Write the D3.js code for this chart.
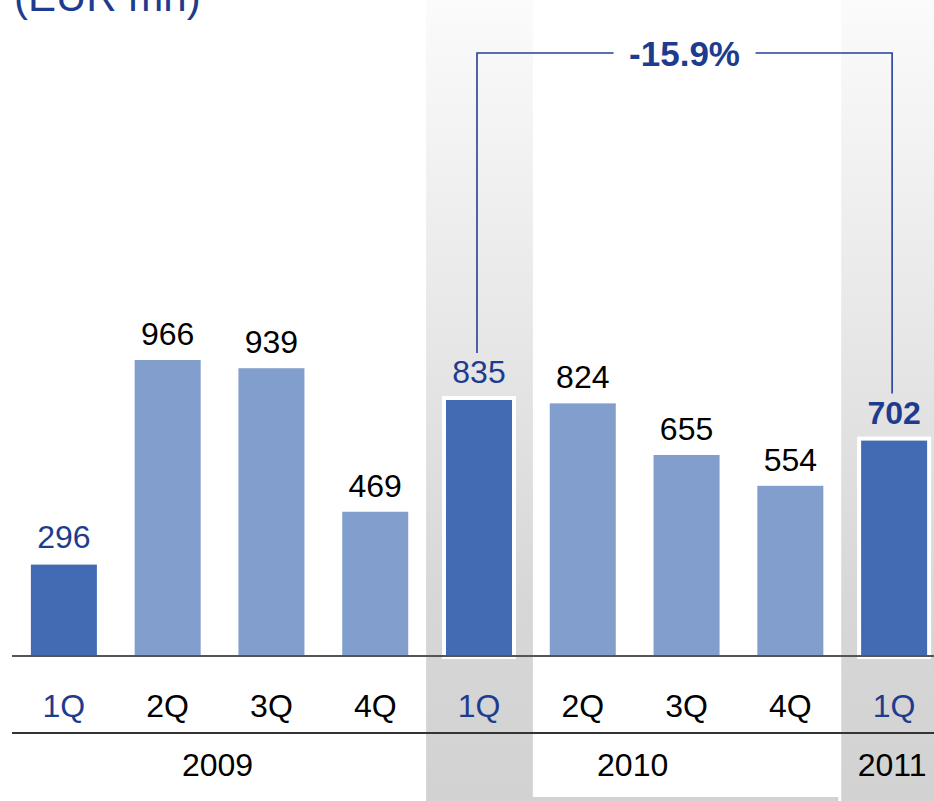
<!DOCTYPE html>
<html>
<head>
<meta charset="utf-8">
<script src="https://cdn.jsdelivr.net/npm/d3@7"></script>
<style>
  body { margin: 0; background: #fff; }
  svg { display: block; font-family: "Liberation Sans", Arial, sans-serif; }
</style>
</head>
<body>
<svg id="chart"></svg>
<script>
  const quarters = ["1Q", "2Q", "3Q", "4Q", "1Q", "2Q", "3Q", "4Q", "1Q"];
  const years = ["2009", "2009", "2009", "2009", "2010", "2010", "2010", "2010", "2011"];
  const values = [296, 966, 939, 469, 835, 824, 655, 554, 702];
  const yearLabels = ["2009", "2010", "2011"];
  const changeLabel = "-15.9%";
  const title = "(EUR mn)";

  const WIDTH = 934;
  const HEIGHT = 801;
  const BASE = 655;

  const data = values.map((v, i) => ({ key: i, q: quarters[i], year: years[i], value: v }));

  const x = d3.scaleBand()
    .domain(data.map(d => d.key))
    .range([12, 946])
    .paddingInner(0.364)
    .paddingOuter(0.182);
  const y = d3.scaleLinear().domain([0, 1000]).range([BASE, BASE - 305.4]);

  const svg = d3.select('#chart').attr('width', WIDTH).attr('height', HEIGHT);

  const defs = svg.append('defs');
  const grad = defs.append('linearGradient')
    .attr('id', 'shade').attr('x1', 0).attr('y1', 0).attr('x2', 0).attr('y2', 1);
  grad.append('stop').attr('offset', '0%').attr('stop-color', '#fbfbfb');
  grad.append('stop').attr('offset', '75%').attr('stop-color', '#d7d7d7');
  grad.append('stop').attr('offset', '100%').attr('stop-color', '#d2d2d2');

  // shaded columns behind the compared quarters
  const step = x.step();
  [4, 8].forEach(i => {
    const cx = x(i) + x.bandwidth() / 2;
    svg.append('rect')
      .attr('x', cx - step / 2 - 1)
      .attr('y', 0)
      .attr('width', step + 3)
      .attr('height', HEIGHT)
      .attr('fill', 'url(#shade)');
  });
  svg.append('rect')
    .attr('x', x(4) + x.bandwidth() / 2 + step / 2 + 2)
    .attr('y', HEIGHT - 4)
    .attr('width', 3 * step - 6)
    .attr('height', 4)
    .attr('fill', '#d2d2d2');

  // title (cut off at the top, as in the source slide)
  svg.append('text')
    .attr('x', 14)
    .attr('y', 11)
    .attr('font-size', 42)
    .attr('fill', '#1e3c8e')
    .text(title);

  // white frame around highlighted bars
  svg.selectAll('.frame')
    .data(data.filter(d => d.key === 4 || d.key === 8))
    .enter()
    .append('rect')
    .attr('x', d => x(d.key) - 4)
    .attr('y', d => y(d.value) - 4)
    .attr('width', x.bandwidth() + 8)
    .attr('height', d => BASE - y(d.value) + 8)
    .attr('fill', '#fff');

  svg.selectAll('.bar')
    .data(data)
    .enter()
    .append('rect')
    .attr('x', d => x(d.key))
    .attr('y', d => y(d.value))
    .attr('width', x.bandwidth())
    .attr('height', d => BASE - y(d.value))
    .attr('fill', d => d.q === '1Q' ? '#436bb3' : '#829ecc');

  // axis lines
  svg.append('line')
    .attr('x1', 12).attr('x2', WIDTH)
    .attr('y1', BASE + 1).attr('y2', BASE + 1)
    .attr('stroke', '#555').attr('stroke-width', 2);
  svg.append('line')
    .attr('x1', 12).attr('x2', WIDTH)
    .attr('y1', 733).attr('y2', 733)
    .attr('stroke', '#333').attr('stroke-width', 2);

  // value labels
  svg.selectAll('.val')
    .data(data)
    .enter()
    .append('text')
    .attr('x', d => x(d.key) + x.bandwidth() / 2)
    .attr('y', d => y(d.value) - (d.q === '1Q' ? 17 : 15))
    .attr('text-anchor', 'middle')
    .attr('font-size', 32)
    .attr('font-weight', d => d.key === 8 ? 'bold' : 'normal')
    .attr('fill', d => d.q === '1Q' ? '#1e3c8e' : '#000')
    .text(d => d.value);

  // quarter labels
  svg.selectAll('.q')
    .data(data)
    .enter()
    .append('text')
    .attr('x', d => x(d.key) + x.bandwidth() / 2)
    .attr('y', 717)
    .attr('text-anchor', 'middle')
    .attr('font-size', 32)
    .attr('fill', d => d.q === '1Q' ? '#1e3c8e' : '#000')
    .text(d => d.q);

  // year labels, centred under their quarters
  svg.selectAll('.yr')
    .data(yearLabels)
    .enter()
    .append('text')
    .attr('x', yr => {
      const ks = data.filter(d => d.year === yr).map(d => x(d.key) + x.bandwidth() / 2);
      return (d3.min(ks) + d3.max(ks)) / 2 - 2;
    })
    .attr('y', 776)
    .attr('text-anchor', 'middle')
    .attr('font-size', 32)
    .attr('fill', '#000')
    .text(d => d);

  // change bracket between 1Q 2010 and 1Q 2011
  const from = data[4], to = data[8];
  const bx0 = x(from.key) + x.bandwidth() / 2 - 2;
  const bx1 = x(to.key) + x.bandwidth() / 2 - 2;
  const bracketY = 53;
  const mid = (bx0 + bx1) / 2;
  const gap = 71;
  const bracket = d3.path();
  bracket.moveTo(bx0, y(from.value) - 47);
  bracket.lineTo(bx0, bracketY);
  bracket.lineTo(mid - gap, bracketY);
  bracket.moveTo(mid + gap, bracketY);
  bracket.lineTo(bx1, bracketY);
  bracket.lineTo(bx1, y(to.value) - 47);
  svg.append('path')
    .attr('d', bracket.toString())
    .attr('fill', 'none')
    .attr('stroke', '#23409a')
    .attr('stroke-width', 1.6);

  svg.append('text')
    .attr('x', mid)
    .attr('y', 66)
    .attr('text-anchor', 'middle')
    .attr('font-size', 35)
    .attr('font-weight', 'bold')
    .attr('fill', '#1e3c8e')
    .text(changeLabel);
</script>
</body>
</html>
